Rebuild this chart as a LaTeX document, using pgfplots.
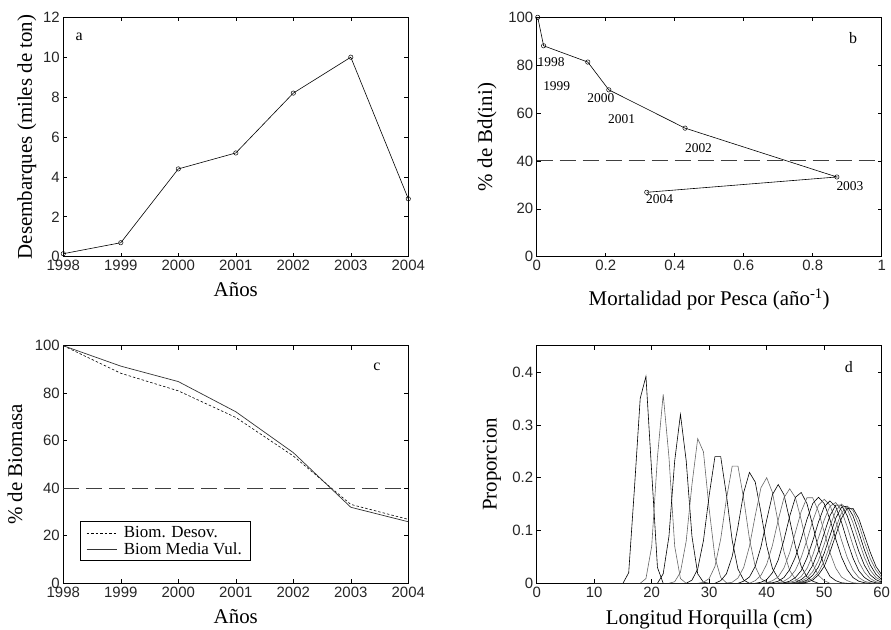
\documentclass[border=0pt]{standalone}
\usepackage{fontspec}
\setmainfont{Liberation Serif}
\newfontfamily\tickfont{Liberation Sans}
\usepackage{pgfplots}
\pgfplotsset{compat=1.18}
\pgfplotsset{
  myaxis/.style={
    scale only axis, width=345bp, anchor=south west,
    tick align=inside, major tick length=4bp,
    axis line style={line width=0.6bp, black},
    every tick/.style={black, line width=0.6bp},
    /pgf/number format/assume math mode=true,
    /pgf/number format/1000 sep={},
    tick label style={font=\tickfont\fontsize{15}{17}\selectfont, text=black!85},
    label style={font=\fontsize{21}{25}\selectfont},
    ylabel style={rotate=0, anchor=center},
    xlabel style={anchor=base},
  },
  curveA/.style={black, line width=0.6bp},
  curveB/.style={black!60, line width=0.6bp},
}
\begin{document}
\begin{tikzpicture}
\useasboundingbox (0bp,0bp) rectangle (891bp,630bp);

% ---------- panel a ----------
\begin{axis}[myaxis, at={(63.3bp,373.3bp)}, height=239.4bp,
  xmin=1998, xmax=2004, ymin=0, ymax=12,
  xtick={1998,1999,2000,2001,2002,2003,2004},
  ytick={0,2,4,6,8,10,12},
  xlabel={Años}, ylabel={Desembarques (miles de ton)},
  xlabel style={at={(axis description cs:0.5,-0.167)}},
  ylabel style={at={(axis description cs:-0.106,0.5)}},
  clip=false]
\addplot[black, line width=0.6bp, mark=o, mark size=2.2bp, mark options={line width=0.5bp}]
  coordinates {(1998,0.15)(1999,0.7)(2000,4.4)(2001,5.2)(2002,8.2)(2003,10.0)(2004,2.9)};
\node[font=\fontsize{16}{18}\selectfont] at (axis description cs:0.046,0.918) {a};
\end{axis}

% ---------- panel b ----------
\begin{axis}[myaxis, at={(536.7bp,373.3bp)}, height=239.4bp,
  xmin=0, xmax=1, ymin=0, ymax=100,
  xtick={0,0.2,0.4,0.6,0.8,1},
  ytick={0,20,40,60,80,100},
  xlabel={Mortalidad por Pesca (año\textsuperscript{-1})}, ylabel={\% de Bd(ini)},
  xlabel style={at={(axis description cs:0.5,-0.205)}},
  ylabel style={at={(axis description cs:-0.144,0.5)}},
  clip=false]
\addplot[black!75, line width=1bp, dash pattern=on 16bp off 7bp] coordinates {(0,40)(1,40)};
\addplot[black, line width=0.6bp, mark=o, mark size=2.2bp, mark options={line width=0.5bp}]
  coordinates {(0.003,100)(0.02,88.1)(0.148,81.3)(0.209,69.7)(0.43,53.7)(0.87,33.3)(0.319,26.9)};
\begin{scope}[font=\fontsize{13.5}{15}\selectfont]
\node at (axis cs:0.042,81.2) {1998};
\node at (axis cs:0.058,71.4) {1999};
\node at (axis cs:0.186,66.2) {2000};
\node at (axis cs:0.246,57.5) {2001};
\node at (axis cs:0.469,45.3) {2002};
\node at (axis cs:0.908,29.7) {2003};
\node at (axis cs:0.356,24.1) {2004};
\end{scope}
\node[font=\fontsize{16}{18}\selectfont] at (axis description cs:0.917,0.914) {b};
\end{axis}

% ---------- panel c ----------
\begin{axis}[myaxis, at={(63.3bp,46.7bp)}, height=237.6bp,
  xmin=1998, xmax=2004, ymin=0, ymax=100,
  xtick={1998,1999,2000,2001,2002,2003,2004},
  ytick={0,20,40,60,80,100},
  xlabel={Años}, ylabel={\% de Biomasa},
  xlabel style={at={(axis description cs:0.5,-0.168)}},
  ylabel style={at={(axis description cs:-0.14,0.5)}},
  legend style={at={(axis description cs:0.048,0.094)}, anchor=south west,
    draw=black, line width=0.6bp, font=\fontsize{17}{19}\selectfont,
    inner xsep=6bp, inner ysep=3bp, row sep=-1bp, column sep=5bp},
  legend cell align=left,
  legend image code/.code={\draw[#1] (0bp,0bp) -- (30bp,0bp);}]
\addplot[black!75, line width=1bp, dash pattern=on 16bp off 7bp, forget plot] coordinates {(1998,40)(2004,40)};
\addplot[black, line width=0.6bp, dash pattern=on 2.5bp off 2bp]
  coordinates {(1998,100)(1999,88.4)(2000,81.0)(2001,69.8)(2002,53.6)(2003,33.2)(2004,26.9)};
\addlegendentry{Biom. Desov.}
\addplot[black!80, line width=0.7bp]
  coordinates {(1998,100)(1999,91.4)(2000,84.9)(2001,72.2)(2002,55.0)(2003,32.0)(2004,25.9)};
\addlegendentry{Biom Media Vul.}
\node[font=\fontsize{16}{18}\selectfont] at (axis description cs:0.909,0.91) {c};
\end{axis}

% ---------- panel d ----------
\begin{axis}[myaxis, at={(536.7bp,46.7bp)}, height=237.6bp,
  xmin=0, xmax=60, ymin=0, ymax=0.45,
  xtick={0,10,20,30,40,50,60},
  ytick={0,0.1,0.2,0.3,0.4},
  xlabel={Longitud Horquilla (cm)}, ylabel={Proporcion},
  xlabel style={at={(axis description cs:0.5,-0.175)}},
  ylabel style={at={(axis description cs:-0.13,0.5)}}]
\addplot[curveA] coordinates {(0,0)(10,0)};
\addplot[curveA] coordinates {(10,0)(15,0)(16,0.02)(17,0.18)(18,0.35)(19,0.392)(20,0.21)(21,0.03)(22,0)(60,0)};
\addplot[curveB] coordinates {(10,0)(18,0)(19,0.009)(20,0.07)(21,0.239)(22,0.358)(23,0.239)(24,0.07)(25,0.009)(26,0)(60,0)};
\addplot[curveA] coordinates {(10,0)(21,0)(22,0.018)(23,0.089)(24,0.232)(25,0.32)(26,0.232)(27,0.089)(28,0.018)(29,0.002)(30,0)(60,0)};
\addplot[curveB] coordinates {(10,0)(23,0)(24,0.003)(25,0.021)(26,0.08)(27,0.187)(28,0.274)(29,0.249)(30,0.14)(31,0.049)(32,0.011)(33,0.001)(34,0)(60,0)};
\addplot[curveA] coordinates {(10,0)(26,0)(27,0.006)(28,0.027)(29,0.081)(30,0.167)(31,0.24)(32,0.24)(33,0.167)(34,0.081)(35,0.027)(36,0.006)(37,0)(60,0)};
\addplot[curveB] coordinates {(10,0)(28,0)(29,0.002)(30,0.009)(31,0.032)(32,0.084)(33,0.16)(34,0.222)(35,0.222)(36,0.16)(37,0.084)(38,0.032)(39,0.009)(40,0.002)(41,0)(60,0)};
\addplot[curveA] coordinates {(10,0)(31,0)(32,0.005)(33,0.018)(34,0.051)(35,0.107)(36,0.172)(37,0.21)(38,0.192)(39,0.134)(40,0.071)(41,0.028)(42,0.009)(43,0.002)(44,0)(60,0)};
\addplot[curveB] coordinates {(10,0)(33,0)(34,0.002)(35,0.01)(36,0.03)(37,0.07)(38,0.128)(39,0.181)(40,0.2)(41,0.172)(42,0.115)(43,0.06)(44,0.024)(45,0.008)(46,0.002)(47,0)(60,0)};
\addplot[curveA] coordinates {(10,0)(35,0)(36,0.004)(37,0.012)(38,0.032)(39,0.069)(40,0.12)(41,0.168)(42,0.187)(43,0.168)(44,0.12)(45,0.069)(46,0.032)(47,0.012)(48,0.004)(49,0)(60,0)};
\addplot[curveB] coordinates {(10,0)(37,0)(38,0.005)(39,0.015)(40,0.036)(41,0.072)(42,0.12)(43,0.162)(44,0.179)(45,0.162)(46,0.12)(47,0.072)(48,0.036)(49,0.015)(50,0.005)(51,0)(60,0)};
\addplot[curveA] coordinates {(10,0)(38,0)(39,0.002)(40,0.007)(41,0.02)(42,0.044)(43,0.082)(44,0.127)(45,0.163)(46,0.172)(47,0.151)(48,0.11)(49,0.066)(50,0.033)(51,0.013)(52,0.005)(53,0.001)(54,0)(60,0)};
\addplot[curveB] coordinates {(10,0)(39,0)(40,0.001)(41,0.005)(42,0.012)(43,0.029)(44,0.058)(45,0.097)(46,0.136)(47,0.162)(48,0.162)(49,0.136)(50,0.097)(51,0.058)(52,0.029)(53,0.012)(54,0.005)(55,0.001)(56,0)(60,0)};
\addplot[curveA] coordinates {(10,0)(40,0)(41,0.001)(42,0.004)(43,0.011)(44,0.026)(45,0.05)(46,0.084)(47,0.121)(48,0.151)(49,0.163)(50,0.151)(51,0.121)(52,0.084)(53,0.05)(54,0.026)(55,0.011)(56,0.004)(57,0.001)(58,0)(60,0)};
\addplot[curveB] coordinates {(10,0)(41,0)(42,0.001)(43,0.004)(44,0.011)(45,0.025)(46,0.049)(47,0.082)(48,0.118)(49,0.148)(50,0.159)(51,0.148)(52,0.118)(53,0.082)(54,0.049)(55,0.025)(56,0.011)(57,0.004)(58,0.001)(59,0)(60,0)};
\addplot[curveA] coordinates {(10,0)(42,0)(43,0.001)(44,0.004)(45,0.011)(46,0.024)(47,0.048)(48,0.08)(49,0.116)(50,0.145)(51,0.156)(52,0.145)(53,0.116)(54,0.08)(55,0.048)(56,0.024)(57,0.011)(58,0.004)(59,0.001)(60,0)};
\addplot[curveB] coordinates {(10,0)(43,0)(44,0.002)(45,0.005)(46,0.013)(47,0.028)(48,0.053)(49,0.086)(50,0.12)(51,0.146)(52,0.153)(53,0.138)(54,0.107)(55,0.072)(56,0.041)(57,0.021)(58,0.009)(59,0.003)(60,0.001)};
\addplot[curveA] coordinates {(10,0)(44,0)(45,0.002)(46,0.007)(47,0.016)(48,0.034)(49,0.061)(50,0.095)(51,0.128)(52,0.148)(53,0.148)(54,0.128)(55,0.095)(56,0.061)(57,0.034)(58,0.016)(59,0.007)(60,0.002)};
\addplot[curveB] coordinates {(10,0)(44,0)(45,0.001)(46,0.004)(47,0.01)(48,0.022)(49,0.043)(50,0.074)(51,0.108)(52,0.137)(53,0.15)(54,0.141)(55,0.115)(56,0.081)(57,0.049)(58,0.025)(59,0.011)(60,0.005)};
\addplot[curveA] coordinates {(10,0)(45,0)(46,0.002)(47,0.006)(48,0.015)(49,0.031)(50,0.057)(51,0.09)(52,0.123)(53,0.144)(54,0.146)(55,0.128)(56,0.097)(57,0.063)(58,0.035)(59,0.017)(60,0.007)};
\addplot[curveB] coordinates {(10,0)(45,0)(46,0.001)(47,0.004)(48,0.009)(49,0.021)(50,0.042)(51,0.072)(52,0.105)(53,0.133)(54,0.146)(55,0.138)(56,0.112)(57,0.078)(58,0.047)(59,0.025)(60,0.011)};
\addplot[curveA] coordinates {(10,0)(46,0)(47,0.002)(48,0.006)(49,0.016)(50,0.032)(51,0.059)(52,0.091)(53,0.123)(54,0.142)(55,0.142)(56,0.123)(57,0.091)(58,0.059)(59,0.032)(60,0.016)};
\node[font=\fontsize{16}{18}\selectfont] at (axis description cs:0.905,0.91) {d};
\end{axis}
\end{tikzpicture}
\end{document}
